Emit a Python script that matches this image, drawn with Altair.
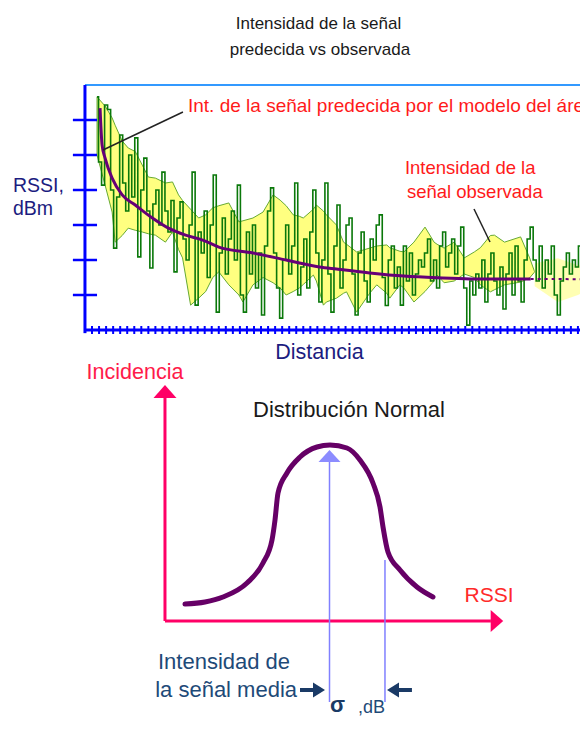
import altair as alt
import pandas as pd

# ---------------- top panel: RSSI (dBm) vs distance ----------------
# observed signal (dBm), sampled every 3 m starting at 12 m
green_rssi = [
    -33.4, -52, -58.6, -35.7, -37, -60, -76.6, -62, -44.3, -58,
    -66, -50, -62, -45.1, -79.1, -60, -50.9, -66, -82.3, -64,
    -60, -70, -54.9, -66, -72, -63, -83.4, -68, -63.4, -74,
    -80, -70, -54.9, -92.9, -72, -78, -66, -85, -70, -55.7,
    -94.9, -78, -68, -84, -74, -66, -80, -58.6, -90, -94.9,
    -72, -84, -70, -88, -78, -95.7, -76, -66, -59.4, -78,
    -88, -96.6, -80, -70, -84, -76, -58, -90, -82, -74,
    -88, -72, -60, -78, -92, -80, -58, -84, -94.9, -76,
    -64.3, -88, -80, -70, -68, -84, -95.7, -78, -72, -86,
    -92, -74, -80, -70, -67.1, -85, -93, -80, -76, -88,
    -82, -92.9, -76, -86, -78, -90, -84, -80, -82, -78,
    -74, -86, -80, -88, -76, -72, -82, -78, -74, -84,
    -76, -70.6, -88, -98.6, -86, -90, -84, -88, -80, -92,
    -84, -78, -86, -90, -82, -94, -84, -78, -90, -76,
    -86, -92, -80, -74, -70.6, -80, -86, -76, -88, -80,
    -84, -76, -90, -95.7, -86, -82, -78, -84, -80, -82,
    -76, -78, -74, -78,
]
green_dist = [12 + 3 * i for i in range(len(green_rssi))]

# yellow envelope around the observed signal
band_dist = [12, 20, 27, 30, 37, 43, 50, 57, 63, 70, 80, 87, 93, 97, 105, 113,
             120, 127, 133, 143, 153, 157, 167, 177, 187, 194, 200, 207, 213,
             217, 227, 230, 237, 240, 250, 257, 260, 270, 283, 290, 300, 303,
             313, 317, 327, 338, 347, 350, 357, 367, 377, 387, 393, 403, 407,
             417, 433, 442, 447]
band_upper = [-33.4, -36, -39.4, -41.5, -46, -48, -49, -52.9, -56.3, -56.6,
              -58, -57.7, -61.4, -63, -65.5, -68, -67.1, -65.1, -64.5, -63.7,
              -69.1, -68.8, -68, -66.3, -61.4, -62.9, -64.5, -67.1, -67.5,
              -68, -65.5, -64.3, -66, -67.1, -70, -74.9, -75.5, -77.7, -76.6,
              -76, -75.7, -76.5, -77.5, -77.7, -74.9, -70.6, -74.9, -75.5,
              -76.6, -74.9, -79.4, -77.7, -76.5, -73, -72.9, -74.9, -73.4,
              -79.4, -83.4]
band_lower = [-50, -58.6, -66.3, -74.9, -73, -70.9, -71.5, -72, -72.5, -72.9,
              -74.9, -72, -77, -79.4, -92.9, -90.9, -89, -85, -83.4, -87.1,
              -90, -92, -87.1, -85, -86.5, -88, -90, -89, -88, -87, -84.3,
              -86, -92.9, -92, -90.9, -89.5, -89.1, -94.9, -89.5, -87.1,
              -89.5, -90.9, -87.1, -88, -92, -89, -86, -84.3, -86.5, -86,
              -84, -85, -87.1, -89.1, -88.5, -87.1, -86.3, -85.1, -83.4]

# faded (dithered) tail of the envelope
fade_dist = [447, 470, 490, 500]
fade_upper = [-81, -79.5, -81.5, -82]
fade_lower = [-87.5, -92, -90, -88.5]

# predicted signal from the area model (dBm)
pred_dist = [15, 17, 20, 27, 37, 50, 67, 83, 100, 117, 133, 167, 200, 233,
             250, 283, 317, 350, 383, 443]
pred_rssi = [-36.6, -47.1, -50.9, -56.6, -61.4, -64.3, -68, -70.9, -72.9,
             -74.3, -76.3, -78, -80, -82, -82.6, -83.7, -84.6, -85.1, -85.4,
             -85.4]
pred_tail_dist = [443, 500]
pred_tail_rssi = [-85.4, -85.5]

ytick_vals = [-40, -50, -60, -70, -80, -90]
xtick_vals = list(range(7, 501, 7))

# ---------------- bottom panel: normal distribution ----------------
bell_x = [-20.69, -17.82, -15.25, -11.81, -9.52, -8.23, -7.80, -7.37, -6.09,
          -4.22, -1.79, 0.07, 2.50, 4.36, 6.22, 7.23, 7.66, 8.37, 10.09,
          12.52, 14.81]
bell_y = [8.5, 9.5, 12, 19, 29, 40.5, 50.5, 64, 74, 82, 87, 88, 86.5, 80.5,
          69, 57, 47, 34.5, 25.5, 17, 12]
mean_db = 0.0
sigma_db = 7.94

# ---------------- styling ----------------
BLUE = "#0000ff"
NAVY = "#1c1c80"
NAVY2 = "#1e4a78"
RED = "#ff1a1a"
PINK = "#ff0066"
FONT = "Liberation Sans"
W, H = 572, 713

xs_top = alt.Scale(domain=[-76.5, 492.05], nice=False, zero=False)
ys_top = alt.Scale(domain=[-211.714, -8.0], nice=False, zero=False)
X = alt.X("d:Q", scale=xs_top, axis=None)
Y = alt.Y("r:Q", scale=ys_top, axis=None)


def tdf(**cols):
    return pd.DataFrame(cols)


def top_text(text, d, r, size, color, align="center", weight="normal"):
    return alt.Chart(tdf(d=[d], r=[r], t=[text])).mark_text(
        font=FONT, fontSize=size, color=color, align=align,
        baseline="middle", fontWeight=weight
    ).encode(x=X, y=Y, text="t:N")


band = alt.Chart(tdf(d=band_dist, r=band_upper, r2=band_lower)).mark_area(
    color="#ffff80", opacity=1, stroke="#66aa33", strokeWidth=1
).encode(x=X, y=Y, y2="r2:Q")
fade = alt.Chart(tdf(d=fade_dist, r=fade_upper, r2=fade_lower)).mark_area(
    color="#ffff80", opacity=0.6).encode(x=X, y=Y, y2="r2:Q")
green = alt.Chart(tdf(d=green_dist, r=green_rssi)).mark_line(
    color="#0a780a", strokeWidth=1.6, interpolate="step").encode(x=X, y=Y)
pred = alt.Chart(tdf(d=pred_dist, r=pred_rssi)).mark_line(
    color="#660077", strokeWidth=3, interpolate="monotone").encode(x=X, y=Y)
pred_tail = alt.Chart(tdf(d=pred_tail_dist, r=pred_tail_rssi)).mark_line(
    color="#660077", strokeWidth=2, strokeDash=[3, 4]).encode(x=X, y=Y)
leaders = alt.Chart(tdf(d=[17.9, 386.7], r=[-48.57, -65.43],
                        d2=[97.4, 402.6], r2=[-37.71, -74.86])).mark_rule(
    color="#222222", strokeWidth=1.5).encode(x=X, y=Y, x2="d2:Q", y2="r2:Q")
top_border = alt.Chart(tdf(d=[0], d2=[500], r=[-30])).mark_rule(
    color="#3399ff", strokeWidth=2).encode(x=X, x2="d2:Q", y=Y)
axis_lines = alt.Chart(tdf(d=[0, -0.5], d2=[0, 500], r=[-30, -100],
                           r2=[-100.9, -100])).mark_rule(
    color=BLUE, strokeWidth=3).encode(x=X, x2="d2:Q", y=Y, y2="r2:Q")
yticks = alt.Chart(tdf(r=ytick_vals, d=[-12] * len(ytick_vals),
                       d2=[12] * len(ytick_vals))).mark_rule(
    color=BLUE, strokeWidth=2.5).encode(x=X, x2="d2:Q", y=Y)
xticks = alt.Chart(tdf(d=xtick_vals, r=[-98.86] * len(xtick_vals),
                       r2=[-101.14] * len(xtick_vals))).mark_rule(
    color=BLUE, strokeWidth=2).encode(x=X, y=Y, y2="r2:Q")

top = alt.layer(
    band, fade, green, pred, pred_tail, leaders, top_border, axis_lines,
    yticks, xticks,
    top_text("Intensidad de la señal", 232.1, -12.7, 17, "#1a1a1a"),
    top_text("predecida vs observada", 233.6, -19.9, 17, "#1a1a1a"),
    top_text("Int. de la señal predecida por el modelo del área", 102.4, -35.9,
             19, RED, align="left"),
    top_text("Intensidad de la", 318, -53.6, 18.5, RED, align="left"),
    top_text("señal observada", 320, -60.6, 18.5, RED, align="left"),
    top_text("RSSI,", -71.6, -58.9, 19.5, NAVY, align="left"),
    top_text("dBm", -71.6, -65.4, 19.5, NAVY, align="left"),
    top_text("Distancia", 233.1, -106.7, 21.5, NAVY),
)

xs_bot = alt.Scale(domain=[-46.02, 35.856], nice=False, zero=False)
ys_bot = alt.Scale(domain=[-50, 306.5], nice=False, zero=False)
BX = alt.X("x:Q", scale=xs_bot, axis=None)
BY = alt.Y("y:Q", scale=ys_bot, axis=None)


def bot_text(text, x, y, size, color, align="center", weight="normal"):
    return alt.Chart(tdf(x=[x], y=[y], t=[text])).mark_text(
        font=FONT, fontSize=size, color=color, align=align,
        baseline="middle", fontWeight=weight
    ).encode(x=BX, y=BY, text="t:N")


def head(x, y, path, size, color):
    return alt.Chart(tdf(x=[x], y=[y])).mark_point(
        shape=path, size=size, filled=True, color=color, opacity=1,
        strokeWidth=0).encode(x=BX, y=BY)


bell = alt.Chart(tdf(x=bell_x, y=bell_y)).mark_line(
    color="#660066", strokeWidth=5, interpolate="monotone", strokeCap="round"
).encode(x=BX, y=BY)
pink_axes = alt.Chart(tdf(x=[-23.55, -23.55], y=[0, 0], x2=[-23.55, 23.1],
                          y2=[112, 0])).mark_rule(
    color=PINK, strokeWidth=3).encode(x=BX, y=BY, x2="x2:Q", y2="y2:Q")
blue_lines = alt.Chart(tdf(x=[mean_db, sigma_db], y=[-40.5, -40.5],
                           y2=[79.5, 30.5])).mark_rule(
    color="#8080ff", strokeWidth=1.5).encode(x=BX, y=BY, y2="y2:Q")
navy_shafts = alt.Chart(tdf(x=[-4.22, 9.8], x2=[-2.0, 11.8],
                            y=[-34.5, -34.5])).mark_rule(
    color="#1a3a66", strokeWidth=4).encode(x=BX, x2="x2:Q", y=BY)

bottom = alt.layer(
    pink_axes,
    head(-23.55, 114.75, "M0,-0.57L1,0.57L-1,0.57Z", 529, PINK),
    head(23.97, 0, "M-0.57,-1L0.57,0L-0.57,1Z", 484, PINK),
    blue_lines,
    head(0, 82.5, "M0,-0.55L1,0.55L-1,0.55Z", 484, "#8c8cff"),
    bell,
    navy_shafts,
    head(-1.5, -34.5, "M-0.8,-1L0.8,0L-0.8,1Z", 225, "#1a3a66"),
    head(9.09, -34.5, "M0.8,-1L-0.8,0L0.8,1Z", 225, "#1a3a66"),
    bot_text("Incidencia", -27.84, 124.25, 21.5, "#ff1a4a"),
    bot_text("Distribución Normal", 2.79, 105.5, 22, "#1a1a1a"),
    bot_text("RSSI", 22.83, 12.75, 21, "#ff2a2a"),
    bot_text("Intensidad de", -15.1, -20.25, 22, NAVY2),
    bot_text("la señal media", -14.8, -34.5, 22, NAVY2),
    bot_text("σ", 1.14, -42.0, 22, "#1a3a66", weight="bold"),
    bot_text(",dB", 4.08, -43.5, 18, NAVY2, align="left"),
)

chart = alt.layer(top, bottom).resolve_scale(
    x="independent", y="independent"
).properties(
    width=W, height=H, padding=0,
    autosize=alt.AutoSizeParams(type="none")
).configure_view(stroke=None)

chart.save("out.html", embed_options={"renderer": "svg", "actions": False})
